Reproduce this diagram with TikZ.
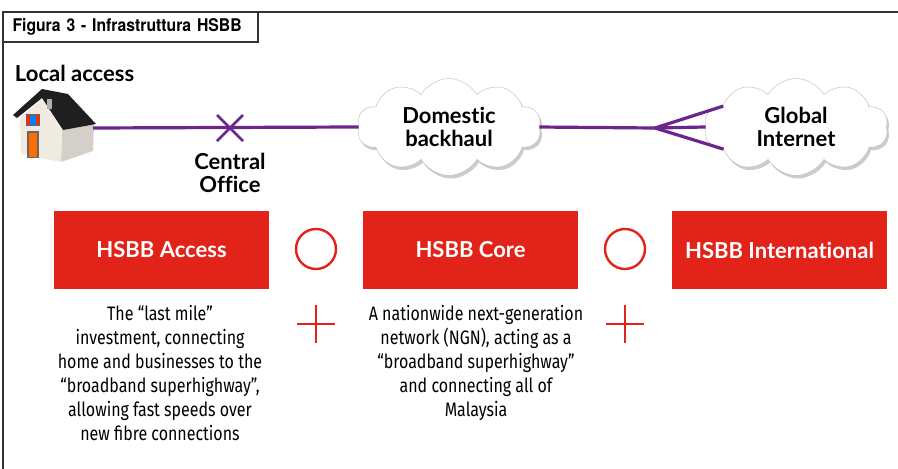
\documentclass[tikz,border=0pt]{standalone}
\usepackage{fontspec}
\setmainfont[Ligatures={NoCommon}]{Lato}
\newfontfamily\titlefont[FakeStretch=0.9]{TeX Gyre Heros}
\newfontfamily\narrowfont[FakeStretch=0.82]{Fira Sans}
\usetikzlibrary{shapes.symbols,shapes.misc,shadows}

\definecolor{hsbbred}{RGB}{226,35,26}
\definecolor{linkpurple}{RGB}{106,38,140}
\definecolor{wallcream}{RGB}{240,235,225}

\begin{document}
\begin{tikzpicture}[x=1pt,y=-1pt,
  every node/.style={inner sep=0pt,outer sep=0pt},
  label/.style={font=\fontsize{22}{23.5}\selectfont\bfseries,align=center},
  netcloud/.style={cloud,cloud puffs=10,cloud puff arc=120,aspect=1.9,
    minimum width=184pt,minimum height=97pt,fill=white,draw=gray!55,
    drop shadow={opacity=0.4,shadow xshift=2pt,shadow yshift=-3pt},
    font=\fontsize{22}{23.5}\selectfont\bfseries,align=center},
  redbox/.style={fill=hsbbred,minimum width=215pt,minimum height=78pt,
    text=white,font=\fontsize{22}{23.5}\selectfont\bfseries},
  ring/.style={circle,draw=hsbbred,line width=2.4pt,minimum size=40pt},
  desc/.style={font=\narrowfont\fontsize{19.5}{24}\selectfont,align=center,anchor=north},
  link/.style={linkpurple,line width=3.2pt}]
  \useasboundingbox (0,0) rectangle (898,469);

  % frame and caption
  \draw[line width=1.4pt,black!80] (3,469) -- (3,12) -- (898,12);
  \node[draw=black!80,line width=1.4pt,anchor=north west,minimum width=255pt,
    minimum height=30pt,text width=248pt,
    font=\titlefont\fontsize{17.5}{19}\selectfont\bfseries] (cap) at (3,12)
    {\hspace*{6pt}Figura 3 - Infrastruttura HSBB};

  \node[label,anchor=west] (local) at (15,73) {Local access};

  % house
  \fill[wallcream!75!gray] (62,130) -- (94,124) -- (93,151) -- (61,162) -- cycle;
  \fill[wallcream] (20,118) -- (42,99) -- (62,130) -- (61,162) -- (21,154) -- cycle;
  \fill[black!88] (13,115) -- (42,89) -- (68,94) -- (96,124) -- (63,130) -- (42,98) -- (17,118) -- cycle;
  \fill[gray!60] (47,99) rectangle (52,109);
  \fill[black!60] (27,131) rectangle (39,158);
  \fill[orange!85!red] (29,133) rectangle (37,157);
  \fill[black!60] (26,114) rectangle (40,126);
  \fill[blue!50!cyan] (30,116) rectangle (36,125);
  \fill[red!70!orange] (27,115) rectangle (30,125);
  \fill[red!70!orange] (36,115) rectangle (39,125);
  \coordinate (house) at (93,128);

  % clouds
  \node[netcloud] (dom) at (449,127) {Domestic\\backhaul};
  \node[netcloud] (gi) at (796,127) {Global\\Internet};

  % links
  \node[cross out,draw=linkpurple,line width=2.8pt,minimum size=26pt] (co) at (230,128) {};
  \node[label] (colabel) at (230,173) {Central\\Office};
  \draw[link] (house) -- (dom.west);
  \coordinate (fan) at (655,128);
  \draw[link] (dom.east) -- (fan);
  \draw[link] (fan) -- (gi.164);
  \draw[link] (fan) -- (gi.west);
  \draw[link] (fan) -- (gi.197);

  % HSBB segments
  \node[redbox] (access) at (161.5,250) {HSBB Access};
  \node[redbox] (core) at (470.5,250) {HSBB Core};
  \node[redbox] (intl) at (779.5,250) {HSBB International};
  \node[ring] (o1) at (316,249) {};
  \node[ring] (o2) at (625,249) {};
  \foreach \px in {316,625}
    \draw[hsbbred,line width=2.4pt] (\px-19,324) -- (\px+19,324) (\px,305) -- (\px,343);

  \node[desc] (accdesc) at (160,305) {The “last mile”\\investment, connecting\\home and businesses to the\\“broadband superhighway”,\\allowing fast speeds over\\new fibre connections};
  \node[desc] (coredesc) at (476,305) {A nationwide next-generation\\network (NGN), acting as a\\“broadband superhighway”\\and connecting all of\\Malaysia};
\end{tikzpicture}
\end{document}
